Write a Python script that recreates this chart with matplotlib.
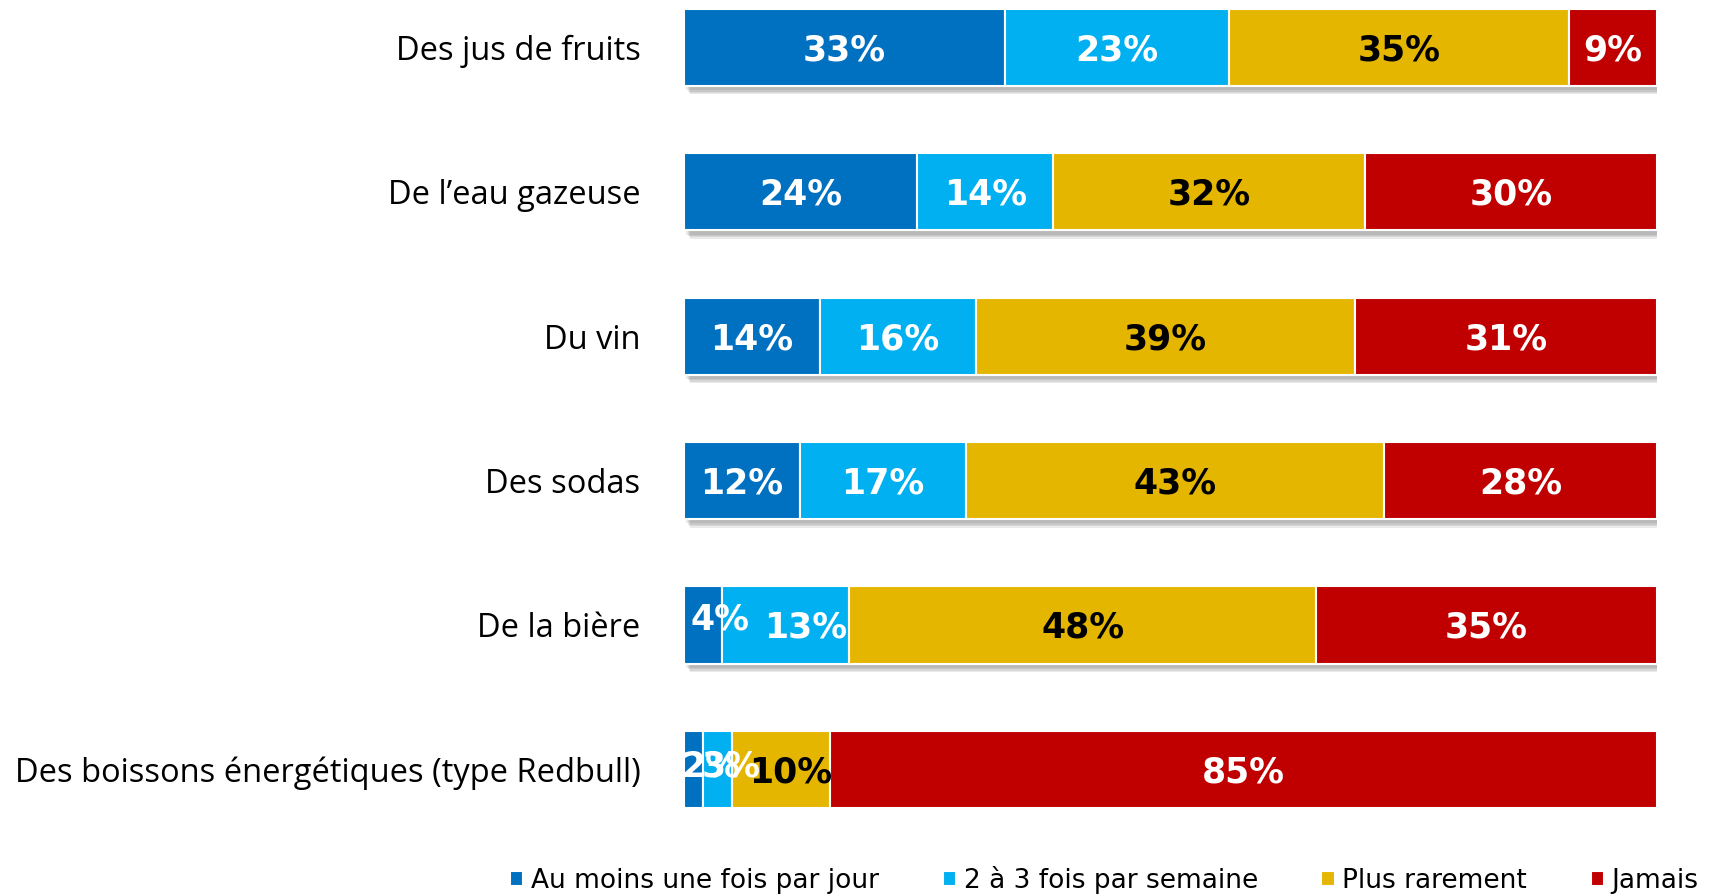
import matplotlib.pyplot as plt
import matplotlib.patheffects as pe
import numpy as np

categories = ["Des jus de fruits", "De l\u2019eau gazeuse", "Du vin", "Des sodas",
              "De la bière", "Des boissons énergétiques (type Redbull)"]
series = ["Au moins une fois par jour", "2 à 3 fois par semaine", "Plus rarement", "Jamais"]
daily = [33, 24, 14, 12, 4, 2]
weekly = [23, 14, 16, 17, 13, 3]
rarely = [35, 32, 39, 43, 48, 10]
never = [9, 30, 31, 28, 35, 85]

colors = ["#0070C0", "#00B0F0", "#E5B600", "#C00000"]
text_colors = ["white", "white", "black", "white"]

fig = plt.figure(figsize=(17.23, 8.96), dpi=100)
ax = fig.add_axes([0.3967, 0.0982, 0.565, 0.892])

y = np.arange(len(categories))
h = 0.535
left = np.zeros(len(categories))

# soft shadow under each whole bar
shadow = [pe.SimplePatchShadow(offset=(d, -d - 1), shadow_rgbFace="#555555", alpha=0.12)
          for d in (5, 4, 3, 2)] + [pe.Normal()]
total = np.array(daily) + np.array(weekly) + np.array(rarely) + np.array(never)
ax.barh(y, total, height=h, color="white", path_effects=shadow, zorder=1)

for k, (vals, name, c, tc) in enumerate(zip([daily, weekly, rarely, never], series, colors, text_colors)):
    ax.barh(y, vals, left=left, height=h, color=c, edgecolor="white",
            linewidth=1.5, label=name, zorder=2)
    for i, v in enumerate(vals):
        cx = left[i] + v / 2
        dy = 0.02
        # narrow segments: labels pushed aside as in the original
        if i == 4 and k == 0:
            cx, dy = 3.7, -0.04
        elif i == 4 and k == 1:
            cx += 2.0
        elif i == 5 and k == 0:
            cx, dy = 2.8, -0.02
        elif i == 5 and k == 1:
            cx, dy = 4.9, -0.02
        elif i == 5 and k == 2:
            cx += 1.0
        ax.text(cx, y[i] + dy, f"{v}%", ha="center", va="center", color=tc,
                fontsize=25, fontweight="bold", family="DejaVu Sans", zorder=3)
    left += np.array(vals)

ax.set_xlim(0, 100)
ax.set_ylim(len(categories) - 1 + h / 2, -h / 2)
ax.set_yticks(y)
ax.set_yticklabels(categories, fontsize=23.5, family="Open Sans")
ax.tick_params(axis="y", length=0, pad=31)
ax.set_xticks([])
for s in ax.spines.values():
    s.set_visible(False)

handles, labels = ax.get_legend_handles_labels()
fig.legend(handles, labels, loc="center", bbox_to_anchor=(0.641, 0.018), ncol=4,
           frameon=False, fontsize=19, handlelength=0.5, handleheight=0.5,
           handletextpad=0.3, columnspacing=2.4)

fig.savefig("out.png", dpi=100)
